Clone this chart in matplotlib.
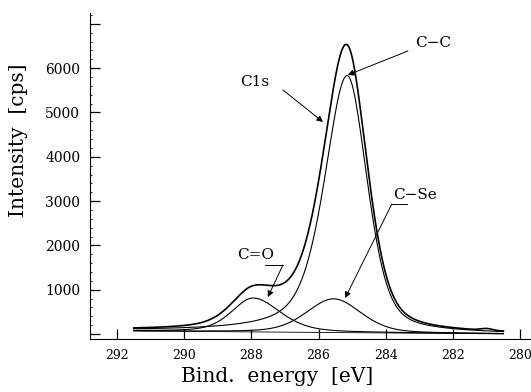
import numpy as np
import matplotlib
matplotlib.use('Agg')
import matplotlib.pyplot as plt
from matplotlib.ticker import FixedLocator, MultipleLocator

# fitted C1s components (height above background)
comp_names = ['C-C', 'C-Se', 'C=O']
comp_centers = [285.15, 285.55, 287.95]
comp_heights = [5800, 760, 765]
comp_hwhm_left = [0.80, 0.95, 0.75]
comp_hwhm_right = [0.70, 0.95, 0.95]
comp_eta_left = [0.55, 0.30, 0.40]
comp_eta_right = [0.40, 0.30, 0.40]

# small noise bump in the measured envelope
bump_center = 281.0
bump_height = 40
bump_hwhm = 0.2

# linear background, start and end of the scan
scan_start = 291.5
scan_end = 280.5
bg_start = 70
bg_end = 5

xticks = [292, 290, 288, 286, 284, 282, 280]
yticks = [0, 1000, 2000, 3000, 4000, 5000, 6000, 7000]
ytick_labels = ['', '1000', '2000', '3000', '4000', '5000', '6000', '']


def pvoigt(x, x0, h, wl, wr, el, er):
    w = np.where(x > x0, wl, wr)
    eta = np.where(x > x0, el, er)
    u = ((x - x0) / w) ** 2
    return h * (eta / (1 + u) + (1 - eta) * np.exp(-np.log(2) * u))


plt.rcParams['font.family'] = ['DejaVu Serif']

fig = plt.figure(figsize=(5.31, 3.92), dpi=100)
ax = fig.add_axes([0.1695, 0.135, 0.8305, 0.832])

E = np.linspace(scan_start, scan_end, 1200)
bg = bg_end + (bg_start - bg_end) * (E - scan_end) / (scan_start - scan_end)

total = bg.copy()
for i in range(len(comp_names)):
    c = pvoigt(E, comp_centers[i], comp_heights[i], comp_hwhm_left[i],
               comp_hwhm_right[i], comp_eta_left[i], comp_eta_right[i])
    total += c
    ax.plot(E, c + bg, color='black', lw=0.8)
total += pvoigt(E, bump_center, bump_height, bump_hwhm, bump_hwhm, 0, 0)

ax.plot(E, bg, color='black', lw=0.6)
ax.plot(E, total, color='black', lw=1.2)

ax.set_xlim(292.8, 279.68)
ax.set_ylim(-113, 7246)

ax.spines['top'].set_visible(False)
ax.spines['right'].set_visible(False)
ax.spines['left'].set_linewidth(0.8)
ax.spines['bottom'].set_linewidth(0.8)

ax.xaxis.set_major_locator(FixedLocator(xticks))
ax.set_xticklabels([str(t) for t in xticks])
ax.yaxis.set_major_locator(FixedLocator(yticks))
ax.set_yticklabels(ytick_labels)
ax.yaxis.set_minor_locator(MultipleLocator(200))
ax.tick_params(axis='both', which='major', direction='in', length=7,
               width=0.9, color='black')
ax.tick_params(axis='x', pad=7, labelsize=9)
ax.tick_params(axis='y', pad=7, labelsize=10)
ax.tick_params(axis='y', which='minor', direction='in', length=1.5, width=0.6)

ax.set_xlabel('Bind.  energy  [eV]', fontsize=14.5)
ax.xaxis.set_label_coords(0.424, -0.085)
ax.set_ylabel('Intensity  [cps]', fontsize=14.5)
ax.yaxis.set_label_coords(-0.14, 0.61)

arrow = dict(arrowstyle='-|>', color='black', lw=0.7, mutation_scale=9,
             shrinkA=0, shrinkB=0)

ax.text(288.34, 5690, 'C1s', fontsize=11, va='center', ha='left')
ax.annotate('', xy=(285.87, 4786), xytext=(287.06, 5508), arrowprops=arrow)

ax.text(283.13, 6570, 'C\u2212C', fontsize=11, va='center', ha='left')
ax.annotate('', xy=(285.13, 5847), xytext=(283.34, 6388), arrowprops=arrow)

ax.text(283.79, 3138, 'C\u2212Se', fontsize=11, va='center', ha='left')
ax.plot([283.82, 283.37], [2935, 2935], color='black', lw=0.7)
ax.annotate('', xy=(285.21, 813), xytext=(283.82, 2935), arrowprops=arrow)

ax.text(288.43, 1783, 'C=O', fontsize=11, va='center', ha='left')
ax.plot([287.6, 287.06], [1558, 1558], color='black', lw=0.7)
ax.annotate('', xy=(287.51, 835), xytext=(287.06, 1558), arrowprops=arrow)

fig.savefig('out.png', dpi=100)
